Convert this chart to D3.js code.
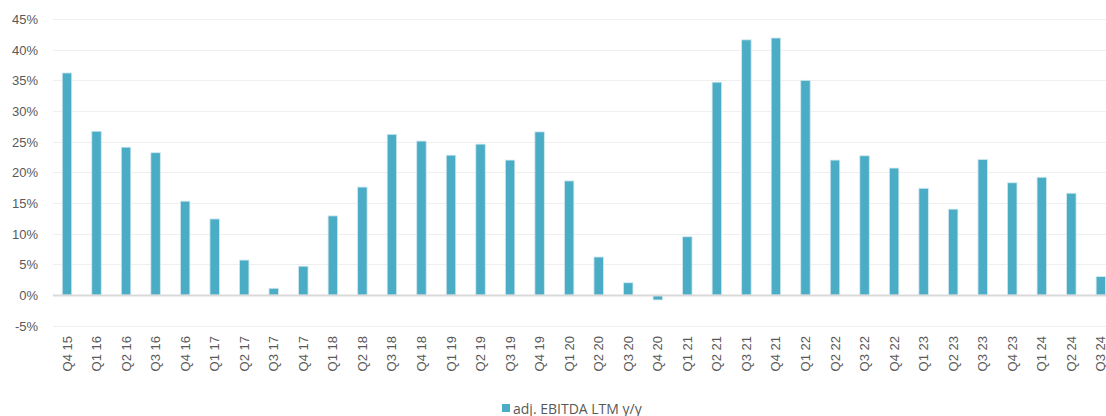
<!DOCTYPE html>
<html>
<head>
<meta charset="utf-8">
<script src="https://cdn.jsdelivr.net/npm/d3@7"></script>
<style>
  body { margin: 0; background: #fff; overflow: hidden; }
  svg { display: block; font-family: "Open Sans", sans-serif; }
  .tick text { fill: #595959; font-size: 13px; }
</style>
</head>
<body>
<svg id="chart" width="1106" height="416"></svg>
<script>
const quarters = ["Q4 15","Q1 16","Q2 16","Q3 16","Q4 16","Q1 17","Q2 17","Q3 17","Q4 17",
    "Q1 18","Q2 18","Q3 18","Q4 18","Q1 19","Q2 19","Q3 19","Q4 19","Q1 20","Q2 20","Q3 20",
    "Q4 20","Q1 21","Q2 21","Q3 21","Q4 21","Q1 22","Q2 22","Q3 22","Q4 22","Q1 23","Q2 23",
    "Q3 23","Q4 23","Q1 24","Q2 24","Q3 24"];
const ebitdaYoY = [36.2, 26.7, 24.1, 23.2, 15.3, 12.4, 5.7, 1.1, 4.7,
    12.9, 17.6, 26.2, 25.1, 22.8, 24.6, 22.0, 26.6, 18.6, 6.2, 2.0,
    -0.8, 9.5, 34.7, 41.6, 41.9, 35.0, 22.0, 22.7, 20.7, 17.4, 14.0,
    22.1, 18.3, 19.2, 16.6, 3.0];
const yTicks = [-5, 0, 5, 10, 15, 20, 25, 30, 35, 40, 45];
const seriesName = "adj. EBITDA LTM y/y";

const svg = d3.select("#chart");
const color = "#4bacc6";

// Scales ///////////////////////////////////

const x = d3.scaleBand()
    .domain(quarters)
    .range([52.2, 52.2 + quarters.length * 29.54])
    .paddingInner(0.68)
    .paddingOuter(0.34);

const y = d3.scaleLinear()
    .domain([-5, 45])
    .range([325.7, 19]);

// Grid /////////////////////////////////////

svg.append("g")
    .selectAll("line")
    .data(yTicks.filter(d => d !== 0))
    .join("line")
    .attr("x1", 53)
    .attr("x2", 1106)
    .attr("y1", d => Math.round(y(d)) + 0.5)
    .attr("y2", d => Math.round(y(d)) + 0.5)
    .attr("stroke", "#efefef")
    .attr("stroke-width", 1);

// Y axis
const yAxis = svg.append("g")
    .attr("transform", "translate(38,0)")
    .call(d3.axisLeft(y).tickValues(yTicks).tickSize(0).tickPadding(0).tickFormat(d => d + "%"));
yAxis.select(".domain").remove();
yAxis.selectAll("text").attr("dy", "0.35em");

// Bars /////////////////////////////////////

svg.append("g")
    .selectAll("rect")
    .data(ebitdaYoY)
    .join("rect")
    .attr("x", (d, i) => x(quarters[i]))
    .attr("width", x.bandwidth())
    .attr("y", d => y(Math.max(0, d)))
    .attr("height", d => Math.abs(y(d) - y(0)))
    .attr("fill", color)
    .attr("stroke", "#cfe8ef")
    .attr("stroke-width", 0.8);

// zero line
svg.append("line")
    .attr("x1", 53)
    .attr("x2", 1106)
    .attr("y1", y(0) + 0.5)
    .attr("y2", y(0) + 0.5)
    .attr("stroke", "#d9d9d9")
    .attr("stroke-width", 2);

// X axis labels (last one runs off the right edge, as in the source)
const xAxis = svg.append("g")
    .attr("transform", "translate(0,336)")
    .call(d3.axisBottom(x).tickSize(0).tickPadding(0));
xAxis.select(".domain").remove();
xAxis.selectAll("text")
    .attr("transform", "rotate(-90)")
    .attr("text-anchor", "end")
    .attr("x", 0)
    .attr("y", 0)
    .attr("dy", "0.35em");

// Legend ///////////////////////////////////

const legend = svg.append("g").attr("transform", "translate(502,404)");
legend.append("rect")
    .attr("width", 8)
    .attr("height", 8)
    .attr("fill", color);
legend.append("text")
    .attr("x", 11)
    .attr("y", 10)
    .attr("fill", "#595959")
    .style("font-size", "14px")
    .text(seriesName);
</script>
</body>
</html>
